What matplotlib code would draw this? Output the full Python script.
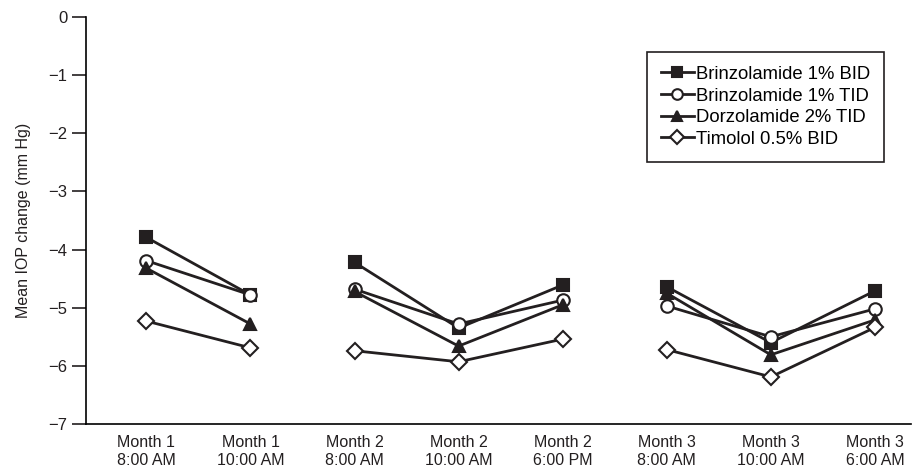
import matplotlib.pyplot as plt
import numpy as np

plt.rcParams['font.family'] = ['Liberation Sans', 'DejaVu Sans']

# time points
labels = ['Month 1\n8:00 AM', 'Month 1\n10:00 AM', 'Month 2\n8:00 AM', 'Month 2\n10:00 AM',
          'Month 2\n6:00 PM', 'Month 3\n8:00 AM', 'Month 3\n10:00 AM', 'Month 3\n6:00 AM']
groups = [(0, 2), (2, 5), (5, 8)]   # visits joined by lines

brinz_bid = [-3.79, -4.78, -4.22, -5.35, -4.61, -4.64, -5.60, -4.71]
brinz_tid = [-4.19, -4.78, -4.68, -5.28, -4.87, -4.97, -5.50, -5.02]
dorz_tid = [-4.32, -5.28, -4.72, -5.66, -4.95, -4.75, -5.81, -5.21]
timolol = [-5.23, -5.69, -5.74, -5.93, -5.54, -5.72, -6.19, -5.34]

series = [
    ('Brinzolamide 1% BID', brinz_bid, 's', '#231f20'),
    ('Brinzolamide 1% TID', brinz_tid, 'o', 'white'),
    ('Dorzolamide 2% TID', dorz_tid, '^', '#231f20'),
    ('Timolol 0.5% BID', timolol, 'D', 'white'),
]

fig = plt.figure(figsize=(9.17, 4.73), dpi=100)
ax = fig.add_axes([0.0938, 0.1036, 0.90, 0.8604])

x = np.arange(len(labels))
for name, vals, mk, fc in series:
    vals = np.array(vals)
    for k, (a, b) in enumerate(groups):
        ax.plot(x[a:b], vals[a:b], color='#231f20', lw=2, marker=mk,
                markersize=9 if mk != 'D' else 8, markerfacecolor=fc,
                markeredgecolor='#231f20', markeredgewidth=1.5,
                label=name if k == 0 else None)

ax.set_ylim(-7, 0)
ax.set_xlim(-0.58, 7.35)
ax.set_yticks(range(-7, 1))
ax.set_yticklabels([str(v).replace('-', '\u2212') for v in range(-7, 1)])
ax.set_xticks(x)
ax.set_xticklabels(labels, fontsize=11.5, color='#231f20')
ax.tick_params(axis='x', length=0, pad=8)
ax.tick_params(axis='y', length=10, width=1.2, labelsize=12, color='#231f20', labelcolor='#231f20')
ax.spines['top'].set_visible(False)
ax.spines['right'].set_visible(False)
ax.spines['left'].set_linewidth(1.2)
ax.spines['bottom'].set_linewidth(1.2)
ax.set_ylabel('Mean IOP change (mm Hg)', fontsize=11.5, color='#231f20', labelpad=12)

leg = ax.legend(loc='upper right', bbox_to_anchor=(0.964, 0.890), bbox_transform=fig.transFigure,
                fontsize=13.3, handlelength=1.8, handletextpad=0.1, borderpad=0.75,
                borderaxespad=0, labelspacing=0.25, markerscale=0.85, fancybox=False,
                edgecolor='#231f20', framealpha=1)
leg.get_frame().set_linewidth(1.2)

fig.savefig('out.png', dpi=100)
